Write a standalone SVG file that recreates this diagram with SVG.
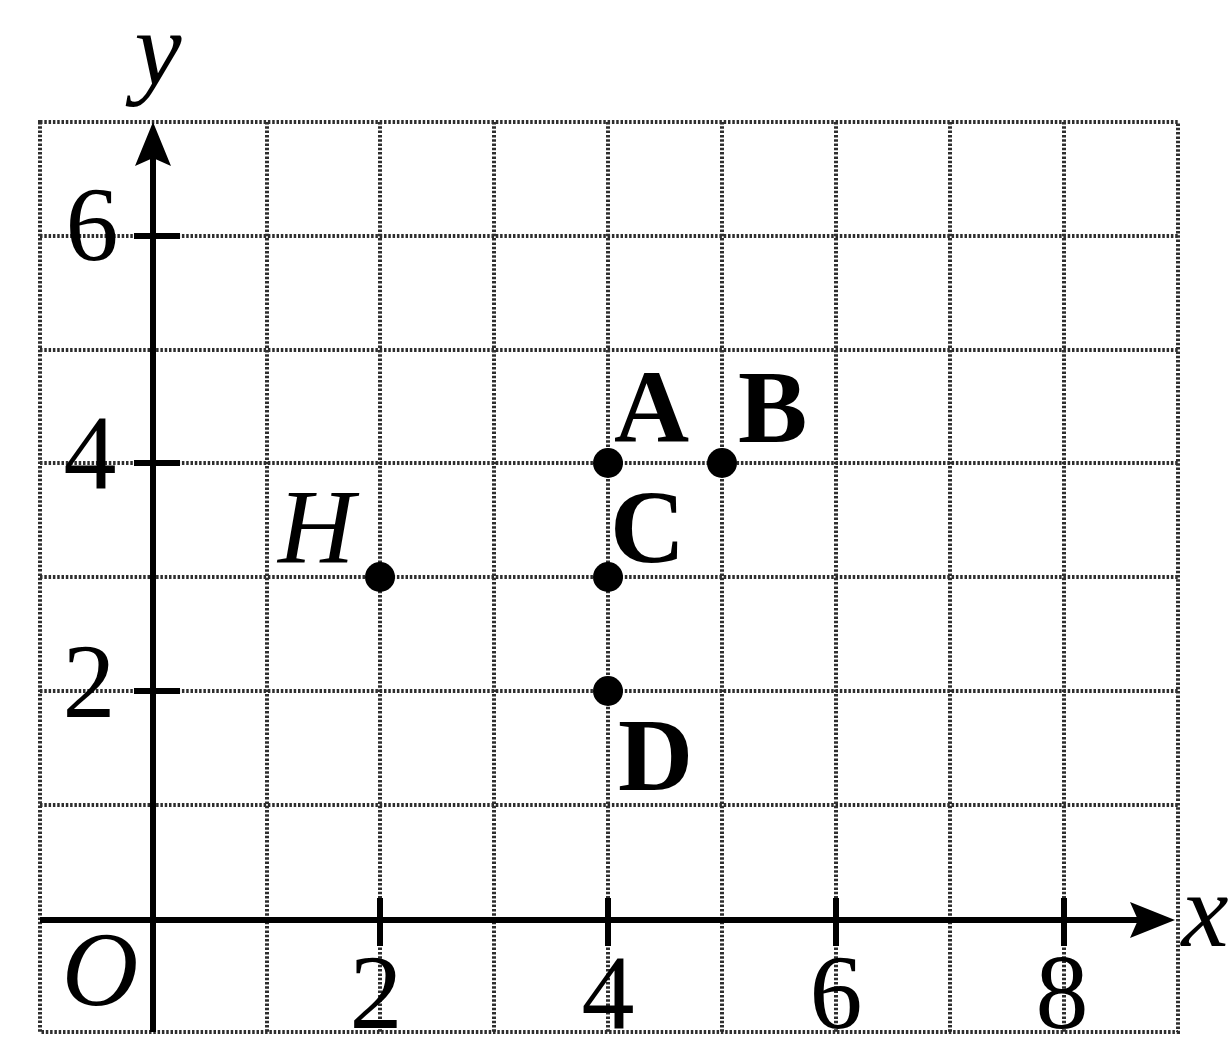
<svg xmlns="http://www.w3.org/2000/svg" width="1228" height="1040" viewBox="0 0 1228 1040">
<style>
.grid{stroke:#2e2e2e;stroke-width:4;stroke-dasharray:2.5 1.8;fill:none}
.axis{stroke:#000;stroke-width:6;fill:none}
.tick{stroke:#000;stroke-width:6}
.num{font-family:"Liberation Serif","DejaVu Serif",serif;font-size:106px;fill:#000}
.it{font-family:"Liberation Serif","DejaVu Serif",serif;font-size:106px;font-style:italic;fill:#000}
.lbl{font-family:"Liberation Serif","DejaVu Serif",serif;font-size:104px;font-weight:bold;fill:#000}
.pt{fill:#000}
</style>
<rect width="1228" height="1040" fill="#fff"/>
<g id="grid">
<rect class="grid" x="40" y="122" width="1138" height="910"/>
<path class="grid" d="M267 122V1032M380 122V1032M494 122V1032M608 122V1032M722 122V1032M836 122V1032M950 122V1032M1064 122V1032"/>
<path class="grid" d="M40 236H1178M40 350H1178M40 463H1178M40 577H1178M40 691H1178M40 805H1178"/>
</g>
<g id="axes">
<line class="axis" x1="153" y1="1032" x2="153" y2="150"/>
<polygon points="153,122 135,166 153,158 171,166" fill="#000"/>
<line class="axis" x1="40" y1="920" x2="1145" y2="920"/>
<polygon points="1175,920 1130,902 1138,920 1130,938" fill="#000"/>
<path class="tick" d="M134 236H180M134 463H180M134 691H180M380 898V946M608 898V946M836 898V946M1064 898V946"/>
</g>
<g id="labels">
<text class="it" x="158" y="84" text-anchor="middle">y</text>
<text class="it" x="1205" y="946" text-anchor="middle">x</text>
<text class="it" x="100" y="1005" text-anchor="middle">O</text>
<text class="num" x="92" y="260" text-anchor="middle">6</text>
<text class="num" x="90" y="488" text-anchor="middle">4</text>
<text class="num" x="89" y="717" text-anchor="middle">2</text>
<text class="num" x="376" y="1028" text-anchor="middle">2</text>
<text class="num" x="608" y="1028" text-anchor="middle">4</text>
<text class="num" x="836" y="1028" text-anchor="middle">6</text>
<text class="num" x="1062" y="1028" text-anchor="middle">8</text>
</g>
<g id="point-A"><circle class="pt" cx="608" cy="463" r="15"/><text class="lbl" x="614" y="442">A</text></g>
<g id="point-B"><circle class="pt" cx="722" cy="463" r="15"/><text class="lbl" x="738" y="442">B</text></g>
<g id="point-C"><circle class="pt" cx="608" cy="577" r="15"/><text class="lbl" x="610" y="562">C</text></g>
<g id="point-D"><circle class="pt" cx="608" cy="691" r="15"/><text class="lbl" x="618" y="790">D</text></g>
<g id="point-H"><circle class="pt" cx="380" cy="577" r="15"/><text class="it" x="278" y="562">H</text></g>
</svg>
